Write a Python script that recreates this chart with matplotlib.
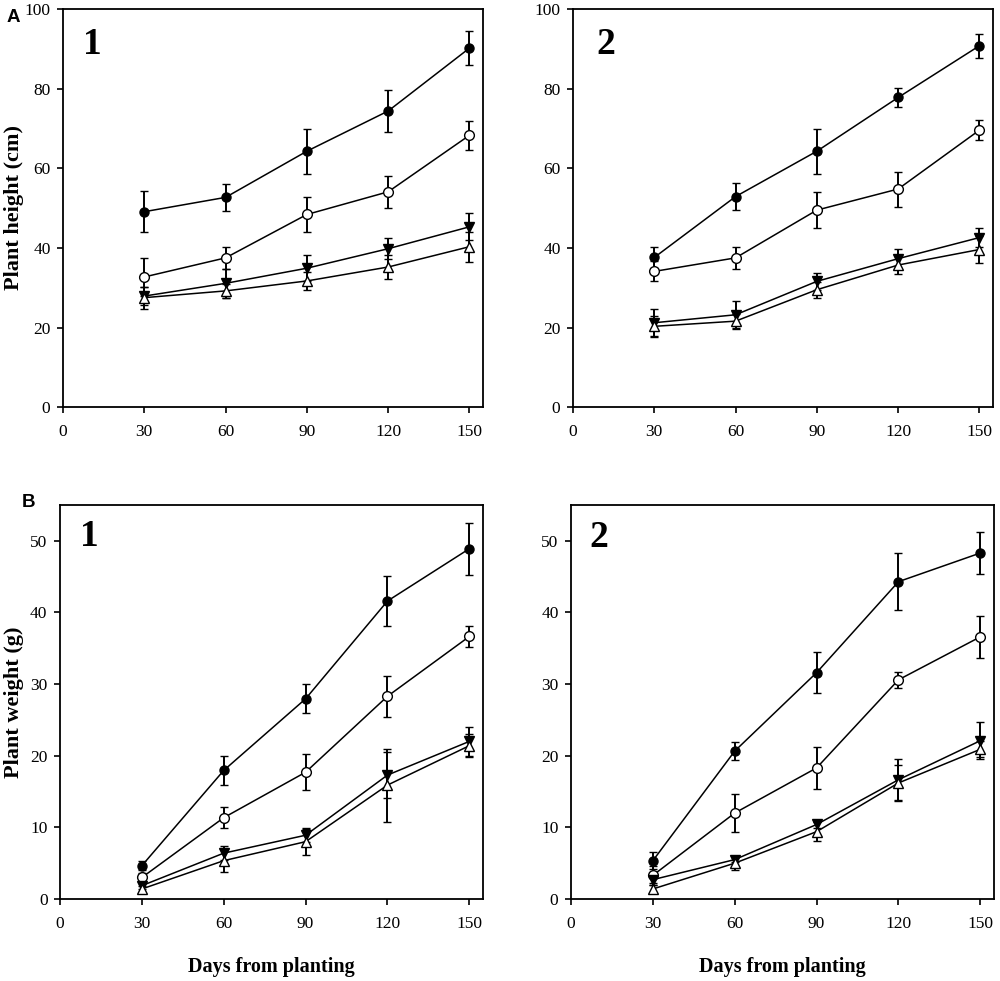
import matplotlib
matplotlib.use("Agg")
import matplotlib.pyplot as plt

days = [30, 60, 90, 120, 150]
x_ticks = [0, 30, 60, 90, 120, 150]

# Panel A1 - plant height (cm)
a1_fc = [49.1, 52.7, 64.3, 74.4, 90.2]
a1_fc_err = [5.2, 3.4, 5.7, 5.2, 4.3]
a1_oc = [32.7, 37.5, 48.4, 54.1, 68.3]
a1_oc_err = [4.8, 2.7, 4.3, 4.0, 3.6]
a1_ft = [27.9, 31.1, 34.9, 39.8, 45.3]
a1_ft_err = [2.3, 3.7, 3.3, 2.6, 3.4]
a1_ot = [27.5, 29.2, 31.7, 35.2, 40.3]
a1_ot_err = [2.8, 1.8, 2.2, 2.9, 3.8]

# Panel A2 - plant height (cm)
a2_fc = [37.6, 52.9, 64.3, 77.8, 90.8]
a2_fc_err = [2.6, 3.4, 5.7, 2.4, 3.0]
a2_oc = [34.1, 37.5, 49.5, 54.8, 69.6]
a2_oc_err = [2.5, 2.7, 4.6, 4.4, 2.6]
a2_ft = [21.2, 23.2, 31.6, 37.3, 42.6]
a2_ft_err = [3.4, 3.4, 2.1, 2.4, 2.4]
a2_ot = [20.3, 21.6, 29.5, 35.7, 39.6]
a2_ot_err = [2.7, 1.9, 2.0, 2.3, 3.4]

# Panel B1 - plant weight (g)
b1_fc = [4.65, 17.95, 27.95, 41.6, 48.9]
b1_fc_err = [0.6, 2.0, 2.0, 3.5, 3.6]
b1_oc = [3.0, 11.35, 17.7, 28.3, 36.65]
b1_oc_err = [0.6, 1.5, 2.5, 2.9, 1.5]
b1_ft = [1.86, 6.4, 8.9, 17.3, 22.0]
b1_ft_err = [0.4, 1.0, 1.0, 3.2, 2.0]
b1_ot = [1.4, 5.35, 8.0, 15.9, 21.4]
b1_ot_err = [0.4, 1.6, 1.8, 5.1, 1.6]

# Panel B2 - plant weight (g)
b2_fc = [5.35, 20.65, 31.6, 44.3, 48.3]
b2_fc_err = [1.2, 1.2, 2.9, 4.0, 2.9]
b2_oc = [3.3, 12.0, 18.3, 30.6, 36.6]
b2_oc_err = [1.3, 2.65, 2.9, 1.1, 2.9]
b2_ft = [2.7, 5.5, 10.4, 16.65, 22.1]
b2_ft_err = [0.5, 0.4, 0.5, 2.9, 2.6]
b2_ot = [1.4, 5.0, 9.4, 16.2, 20.9]
b2_ot_err = [0.6, 1.0, 1.3, 2.5, 1.1]

serif = "Liberation Serif"
sans = "Liberation Sans"

fig = plt.figure(figsize=(10, 9.81), dpi=100)

panels = [
    dict(pos=[0.063, 0.585, 0.420, 0.4057], ylim=(0, 100), yt=[0, 20, 40, 60, 80, 100],
         data=[(a1_fc, a1_fc_err), (a1_oc, a1_oc_err), (a1_ft, a1_ft_err), (a1_ot, a1_ot_err)],
         num="1", numxy=(0.07, 0.912), ylabel="Plant height (cm)", ylab_y=0.788, xlabel=None),
    dict(pos=[0.573, 0.585, 0.420, 0.4057], ylim=(0, 100), yt=[0, 20, 40, 60, 80, 100],
         data=[(a2_fc, a2_fc_err), (a2_oc, a2_oc_err), (a2_ft, a2_ft_err), (a2_ot, a2_ot_err)],
         num="2", numxy=(0.078, 0.91), ylabel=None, xlabel=None),
    dict(pos=[0.060, 0.0836, 0.423, 0.4016], ylim=(0, 55), yt=[0, 10, 20, 30, 40, 50],
         data=[(b1_fc, b1_fc_err), (b1_oc, b1_oc_err), (b1_ft, b1_ft_err), (b1_ot, b1_ot_err)],
         num="1", numxy=(0.07, 0.921), ylabel="Plant weight (g)", ylab_y=0.284,
         xlabel="Days from planting"),
    dict(pos=[0.571, 0.0836, 0.423, 0.4016], ylim=(0, 55), yt=[0, 10, 20, 30, 40, 50],
         data=[(b2_fc, b2_fc_err), (b2_oc, b2_oc_err), (b2_ft, b2_ft_err), (b2_ot, b2_ot_err)],
         num="2", numxy=(0.066, 0.918), ylabel=None, xlabel="Days from planting"),
]

styles = [
    dict(marker="o", mfc="black", ms=6.5),
    dict(marker="o", mfc="white", ms=7),
    dict(marker="v", mfc="black", ms=7),
    dict(marker="^", mfc="white", ms=7),
]

for p in panels:
    ax = fig.add_axes(p["pos"])
    for (vals, errs), st in zip(p["data"], styles):
        ax.errorbar(days, vals, yerr=errs, color="black", lw=1.1, elinewidth=1.4,
                    capsize=2.8, capthick=1.4, marker=st["marker"], mfc=st["mfc"],
                    mec="black", mew=1.0, ms=st["ms"], zorder=3)
    ax.set_xlim(0, 155)
    ax.set_ylim(*p["ylim"])
    ax.set_xticks(x_ticks)
    ax.set_yticks(p["yt"])
    ax.tick_params(direction="out", length=4, width=1.2, labelsize=12.5)
    ax.tick_params(axis="x", pad=8)
    ax.tick_params(axis="y", pad=5)
    for lab in ax.get_xticklabels() + ax.get_yticklabels():
        lab.set_fontfamily(serif)
    for s in ax.spines.values():
        s.set_linewidth(1.3)
    ax.text(p["numxy"][0], p["numxy"][1], p["num"], transform=ax.transAxes,
            fontsize=27, fontweight="bold", family=serif, ha="center", va="center")
    if p["ylabel"]:
        fig.text(0.014, p["ylab_y"], p["ylabel"], rotation=90, fontsize=16,
                 fontweight="bold", family=serif, ha="center", va="center")
    if p["xlabel"]:
        ax.set_xlabel(p["xlabel"], fontsize=14.5, fontweight="bold", family=serif, labelpad=18)

fig.text(0.007, 0.982, "A", fontsize=13.5, fontweight="bold", family=sans, va="center")
fig.text(0.022, 0.488, "B", fontsize=13.5, fontweight="bold", family=sans, va="center")

fig.savefig("out.png", dpi=100)
